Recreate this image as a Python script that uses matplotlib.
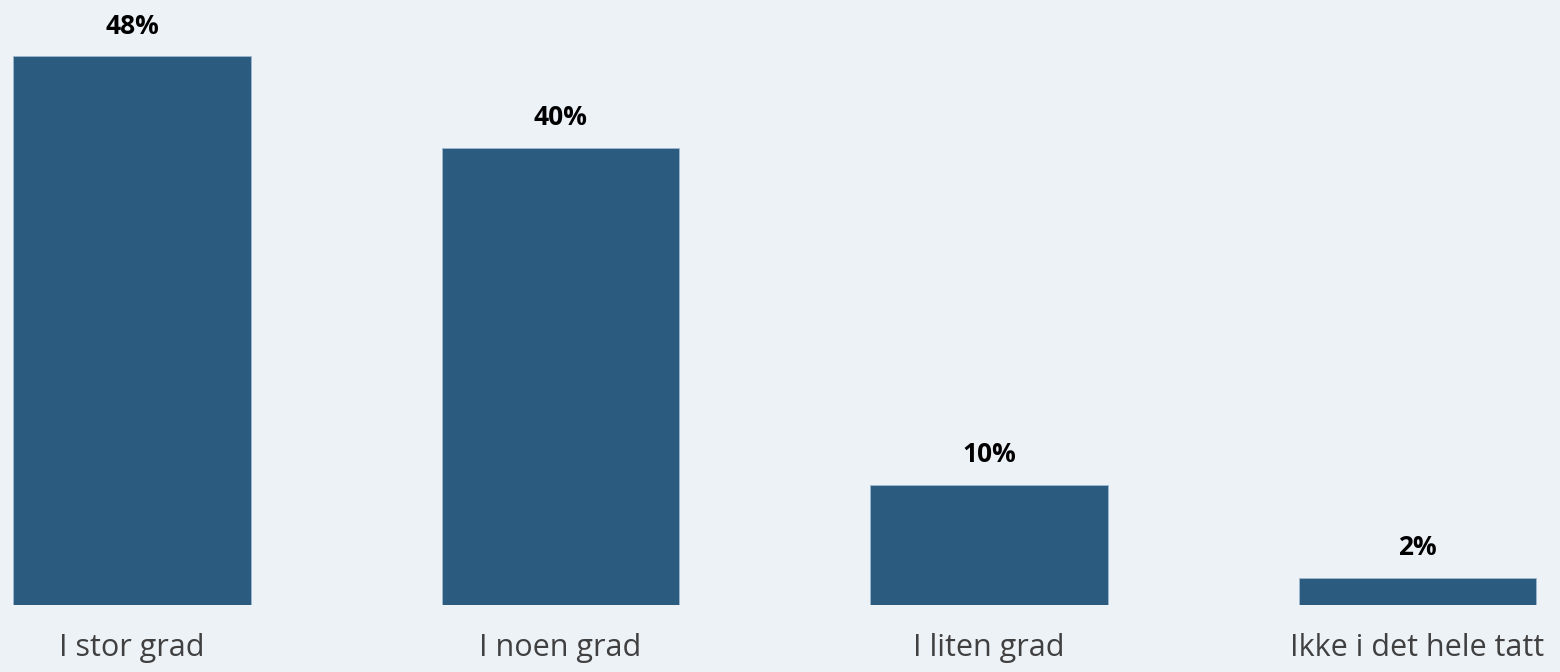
import matplotlib.pyplot as plt

categories = ["I stor grad", "I noen grad", "I liten grad", "Ikke i det hele tatt"]
values = [48.0, 40.0, 10.5, 2.4]
labels = ["48%", "40%", "10%", "2%"]

plt.rcParams['font.family'] = ['Open Sans', 'DejaVu Sans']

fig = plt.figure(figsize=(15.6, 6.72), dpi=100)
fig.patch.set_facecolor('#EDF2F7')
ax = fig.add_axes([0, 67 / 672, 1, 605 / 672])
ax.set_facecolor('#EDF2F7')

x = range(len(categories))
bars = ax.bar(x, values, width=0.555, color='#2C5B80', edgecolor='#9DB8D0', linewidth=0.6)

for rect, lab in zip(bars, labels):
    ax.annotate(lab, (rect.get_x() + rect.get_width() / 2, rect.get_height()),
                xytext=(0, 12), textcoords='offset points',
                ha='center', va='bottom', fontsize=19, fontweight='bold', color='black')

ax.set_xlim(-132 / 428.5, (1560 - 132) / 428.5)
ax.set_ylim(0, 605 / 11.43)
ax.set_xticks(list(x))
ax.set_xticklabels(categories, fontsize=22, color='#404040')
ax.tick_params(axis='x', length=0, pad=20)
ax.set_yticks([])
for s in ax.spines.values():
    s.set_visible(False)

fig.savefig('out.png', dpi=100, facecolor=fig.get_facecolor())
